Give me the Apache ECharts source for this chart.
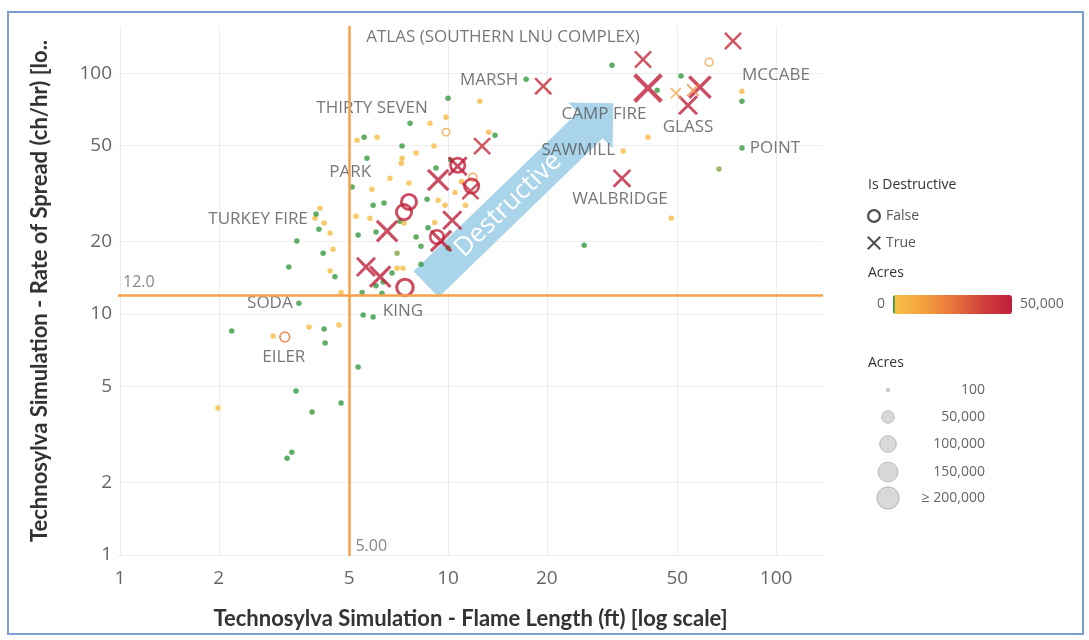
<!DOCTYPE html>
<html>
<head>
<meta charset="utf-8">
<title>Flame length vs rate of spread</title>
<script src="https://cdn.jsdelivr.net/npm/echarts@6/dist/echarts.min.js"></script>
<style>
  html, body { margin: 0; padding: 0; background: #fff; }
  #chart { width: 1089px; height: 640px; }
</style>
</head>
<body>
<div id="chart"></div>
<script>
// [flame length (ft), rate of spread (ch/hr), acres, fire name]
const notDestructive = [
  [31.6, 108, 150], [51.3, 97.3, 150], [43.4, 85.0, 150], [62.5, 111, 14000],
  [78.7, 84.2, 3000, 'MCCABE'], [78.7, 76.5, 150], [78.7, 48.9, 150, 'POINT'], [67.0, 40.0, 700],
  [40.7, 54.2, 2500], [34.2, 47.5, 2500, 'SAWMILL'], [47.9, 25.0, 3000], [26.0, 19.3, 150],
  [17.3, 94.4, 150, 'MARSH'], [12.5, 76.5, 2500], [10.0, 78.7, 150, 'THIRTY SEVEN'], [13.9, 55.3, 150],
  [13.3, 56.9, 4000], [9.86, 65.6, 3000], [7.66, 62.0, 150], [8.81, 62.0, 2000],
  [9.86, 56.9, 12000], [5.55, 54.2, 150], [5.28, 52.7, 2000], [6.08, 54.2, 2000],
  [9.06, 49.8, 2500], [7.24, 49.8, 150], [7.99, 46.6, 2000], [7.24, 44.4, 4000],
  [7.20, 42.3, 4000], [5.66, 44.4, 150], [10.2, 43.5, 150], [9.19, 40.4, 150],
  [11.9, 37.0, 15000], [6.65, 36.6, 2000], [7.60, 35.0, 2000], [5.86, 33.0, 2000],
  [5.10, 33.7, 150, 'PARK'], [5.91, 28.3, 150], [6.38, 28.9, 150], [8.63, 30.0, 150],
  [9.33, 29.7, 2000], [5.24, 25.5, 2000], [5.78, 25.0, 2000], [5.32, 21.3, 150],
  [6.03, 21.9, 150], [7.14, 24.3, 150], [7.34, 23.9, 2000], [7.99, 20.9, 150],
  [8.27, 19.1, 150], [6.99, 17.9, 700], [6.99, 15.5, 2000], [7.29, 15.5, 2000],
  [6.75, 14.8, 150], [6.34, 13.6, 150], [8.27, 16.1, 150], [5.47, 12.3, 150],
  [6.29, 12.2, 150], [6.03, 13.1, 150], [5.51, 9.91, 150], [5.91, 9.72, 150],
  [8.69, 22.8, 150], [9.79, 28.3, 2500], [10.5, 32.0, 2500], [11.0, 35.5, 4500],
  [10.0, 18.8, 150], [11.3, 28.3, 2500], [9.10, 24.0, 2000],
  [3.93, 25.0, 2000], [3.96, 26.0, 150, 'TURKEY FIRE'], [4.07, 27.5, 2000], [4.19, 23.9, 2000],
  [4.04, 22.5, 150], [4.37, 21.7, 2000], [3.46, 20.1, 150], [4.46, 18.6, 2000],
  [4.16, 17.9, 150], [3.27, 15.7, 150], [4.37, 15.1, 2000], [4.52, 14.3, 150],
  [4.72, 12.3, 2000], [3.51, 11.1, 150, 'SODA'], [2.19, 8.50, 150], [2.93, 8.11, 2000],
  [3.18, 8.03, 25000, 'EILER'], [3.77, 8.83, 2000], [4.19, 8.67, 150], [4.65, 9.00, 2500],
  [4.22, 7.59, 150], [5.32, 6.03, 150], [3.44, 4.79, 150], [1.99, 4.07, 2000],
  [4.72, 4.27, 150], [3.85, 3.92, 150], [3.34, 2.67, 150], [3.23, 2.52, 150],
  [10.7, 41.5, 70000], [11.8, 34.0, 70000], [7.60, 29.2, 80000], [7.34, 26.5, 80000],
  [9.25, 20.9, 60000], [7.39, 12.9, 97000, 'KING']
]

const destructive = [
  [73.9, 136, 45000], [39.3, 114, 45000, 'ATLAS (SOUTHERN LNU COMPLEX)'],
  [40.7, 86.7, 153000, 'CAMP FIRE'], [19.5, 88.3, 45000], [58.6, 87.5, 90000],
  [53.9, 73.6, 60000, 'GLASS'], [55.8, 85.0, 18000], [49.5, 82.6, 12000],
  [33.9, 36.6, 50000, 'WALBRIDGE'], [12.7, 49.8, 45000], [10.7, 41.1, 60000],
  [9.33, 36.0, 80000], [11.7, 32.4, 45000], [10.3, 24.5, 60000], [9.52, 20.1, 80000],
  [6.52, 22.1, 80000], [5.62, 15.7, 60000], [6.21, 14.3, 80000]
]

const axisTicks = [1, 2, 5, 10, 20, 50, 100]
const flameRef = 5
const spreadRef = 12
const colorMax = 50000
const sizeLegendAcres = [100, 50000, 100000, 150000, 200000]
const sizeLegendLabels = ['100', '50,000', '100,000', '150,000', '\u2265 200,000']
const arrowFrom = [8.57, 13.3]
const arrowTo = [31.9, 75.1]

// where each fire name sits relative to its mark (px)
const labelOffsets = {
  'ATLAS (SOUTHERN LNU COMPLEX)': [-140, -22],
  'MARSH': [-37, 1],
  'MCCABE': [34, -16],
  'THIRTY SEVEN': [-76, 10],
  'CAMP FIRE': [-44, 26],
  'GLASS': [0, 22],
  'SAWMILL': [-45, -1],
  'PARK': [-2, -15],
  'POINT': [33, 0],
  'WALBRIDGE': [-2, 21],
  'TURKEY FIRE': [-58, 5],
  'SODA': [-29, 0],
  'KING': [-2, 24],
  'EILER': [-1, 20]
}

const xPath = 'path://M0,10L10,0L50,40L90,0L100,10L60,50L100,90L90,100L50,60L10,100L0,90L40,50Z'
const ringPath = 'path://M50,0A50,50 0 1,1 50,100A50,50 0 1,1 50,0ZM50,16A34,34 0 1,0 50,84A34,34 0 1,0 50,16Z'

function markSize(acres) {
  return 2.6 + 0.044 * Math.sqrt(Math.min(acres, 200000))
}

function hexToRgb(h) {
  return [1, 3, 5].map(i => parseInt(h.slice(i, i + 2), 16))
}
function mix(a, b, t) {
  const ca = hexToRgb(a), cb = hexToRgb(b)
  return 'rgb(' + ca.map((v, i) => Math.round(v + (cb[i] - v) * t)).join(',') + ')'
}
// green only at the very bottom of the range, then yellow -> orange -> red
function buildColors() {
  const warm = ['#f7c047', '#f3a03f', '#e8743c', '#d2403b', '#bf1f3b']
  const out = ['#369a42', '#369a42']
  for (let i = 0; i <= 98; i++) {
    const t = i / 98 * (warm.length - 1)
    const k = Math.min(Math.floor(t), warm.length - 2)
    out.push(mix(warm[k], warm[k + 1], t - k))
  }
  return out
}

const labelFont = 'Open Sans'

function toItems(rows) {
  return rows.map(r => {
    const item = { value: [r[0], r[1], r[2]] }
    if (r[3]) {
      item.name = r[3]
      item.label = {
        show: true,
        position: 'inside',
        offset: labelOffsets[r[3]],
        formatter: '{b}',
        color: '#555',
        fontSize: 17,
        fontFamily: labelFont
      }
    }
    return item
  })
}

function arrowGeometry(api) {
  const p0 = api.coord([api.value(0), api.value(1)])
  const p1 = api.coord([api.value(2), api.value(3)])
  const dx = p1[0] - p0[0]
  const dy = p1[1] - p0[1]
  const len = Math.sqrt(dx * dx + dy * dy)
  const d = [dx / len, dy / len]
  const n = [-d[1], d[0]]
  const hl = 32
  const pb = [p1[0] - d[0] * hl, p1[1] - d[1] * hl]
  return { p0, p1, pb, n, angle: -Math.atan2(dy, dx) }
}

const chart = echarts.init(document.getElementById('chart'), null, { renderer: 'canvas' })

const sizeLegend = []
sizeLegendAcres.forEach((a, i) => {
  const cy = [390, 417, 444, 472, 498][i]
  const d = markSize(a)
  sizeLegend.push({
    type: 'circle', shape: { cx: 888, cy: cy, r: d / 2 },
    style: { fill: '#d9d9d9', stroke: '#b8b8b8', lineWidth: 1 }
  })
  sizeLegend.push({
    type: 'text', x: 985, y: cy,
    style: { text: sizeLegendLabels[i], align: 'right', verticalAlign: 'middle', fill: '#666', fontSize: 14, fontFamily: labelFont }
  })
})

const axisCommon = {
  type: 'log',
  axisLine: { show: false },
  axisTick: { show: false, customValues: axisTicks },
  splitLine: { show: true, lineStyle: { color: '#ededed', width: 1 } },
  nameLocation: 'middle',
  nameTextStyle: { fontFamily: 'Lato', fontWeight: 'bold', fontSize: 22, color: '#333' }
}

chart.setOption({
  animation: false,
  backgroundColor: '#fff',
  grid: { left: 118, right: 266, top: 26, bottom: 84 },
  xAxis: Object.assign({}, axisCommon, {
    min: 0.986,
    max: 139,
    name: 'Technosylva Simulation - Flame Length (ft) [log scale]',
    nameGap: 52,
    axisLabel: { customValues: axisTicks, color: '#666', fontSize: 19, fontFamily: labelFont, margin: 13 }
  }),
  yAxis: Object.assign({}, axisCommon, {
    min: 0.99,
    max: 157,
    name: 'Technosylva Simulation - Rate of Spread (ch/hr) [lo..',
    nameGap: 67,
    axisLabel: { customValues: axisTicks, color: '#666', fontSize: 19, fontFamily: labelFont, margin: 6 }
  }),
  legend: {
    orient: 'vertical',
    left: 862,
    top: 204,
    itemWidth: 14,
    itemHeight: 14,
    itemGap: 13,
    textStyle: { color: '#555', fontSize: 14, fontFamily: labelFont },
    data: [
      { name: 'False', icon: ringPath, itemStyle: { color: '#222' } },
      { name: 'True', icon: xPath, itemStyle: { color: '#222' } }
    ]
  },
  visualMap: {
    type: 'continuous',
    seriesIndex: [0, 1],
    dimension: 2,
    min: 0,
    max: colorMax,
    calculable: false,
    hoverLink: false,
    orient: 'horizontal',
    left: 862,
    top: 280,
    itemWidth: 19,
    itemHeight: 119,
    text: ['50,000', '0'],
    textGap: 8,
    textStyle: { color: '#666', fontSize: 14, fontFamily: labelFont },
    inRange: { color: buildColors() }
  },
  graphic: [
    {
      type: 'rect', shape: { x: 8, y: 12, width: 1075, height: 622 },
      style: { fill: 'none', stroke: '#7c9dcf', lineWidth: 2 }, silent: true
    },
    { type: 'text', x: 868, y: 185, style: { text: 'Is Destructive', fill: '#333', fontSize: 14, fontFamily: labelFont, verticalAlign: 'middle' } },
    { type: 'text', x: 868, y: 273, style: { text: 'Acres', fill: '#333', fontSize: 14, fontFamily: labelFont, verticalAlign: 'middle' } },
    { type: 'text', x: 868, y: 363, style: { text: 'Acres', fill: '#333', fontSize: 14, fontFamily: labelFont, verticalAlign: 'middle' } }
  ].concat(sizeLegend),
  series: [
    {
      name: 'False',
      type: 'scatter',
      z: 2,
      data: toItems(notDestructive),
      symbol: v => (v[2] >= 5000 ? ringPath : 'circle'),
      symbolSize: v => (v[2] >= 5000 ? markSize(v[2]) * 1.2 : Math.max(5.5, markSize(v[2]))),
      markLine: {
        silent: true,
        symbol: 'none',
        lineStyle: { color: '#f6a04d', width: 2.5, type: 'solid' },
        data: [
          { xAxis: flameRef, label: { formatter: flameRef.toFixed(2), position: 'start', offset: [22, -23], color: '#888', fontSize: 16, fontFamily: labelFont } },
          { yAxis: spreadRef, label: { formatter: spreadRef.toFixed(1), position: 'insideStartTop', color: '#888', fontSize: 16, fontFamily: labelFont } }
        ]
      }
    },
    {
      name: 'True',
      type: 'scatter',
      z: 3,
      data: toItems(destructive),
      symbol: xPath,
      symbolSize: v => markSize(v[2]) * 1.5
    },
    {
      name: 'arrow',
      type: 'custom',
      z: 1,
      silent: true,
      data: [[arrowFrom[0], arrowFrom[1], arrowTo[0], arrowTo[1]]],
      encode: { x: [0, 2], y: [1, 3] },
      renderItem: function(params, api) {
        const g = arrowGeometry(api)
        const hw = 18
        const hh = 32
        const pt = (p, s) => [p[0] + g.n[0] * s, p[1] + g.n[1] * s]
        const points = [pt(g.p0, hw), pt(g.pb, hw), pt(g.pb, hh), g.p1, pt(g.pb, -hh), pt(g.pb, -hw), pt(g.p0, -hw)]
        return { type: 'polygon', shape: { points: points }, style: { fill: '#a9d4ea' } }
      }
    },
    {
      name: 'arrowText',
      type: 'custom',
      z: 10,
      silent: true,
      data: [[arrowFrom[0], arrowFrom[1], arrowTo[0], arrowTo[1]]],
      encode: { x: [0, 2], y: [1, 3] },
      renderItem: function(params, api) {
        const g = arrowGeometry(api)
        return {
          type: 'text',
          x: (g.p0[0] + g.pb[0]) / 2,
          y: (g.p0[1] + g.pb[1]) / 2,
          rotation: g.angle,
          style: { text: 'Destructive', fill: '#fff', fontSize: 26, fontFamily: labelFont, align: 'center', verticalAlign: 'middle' }
        }
      }
    }
  ]
})
</script>
</body>
</html>
